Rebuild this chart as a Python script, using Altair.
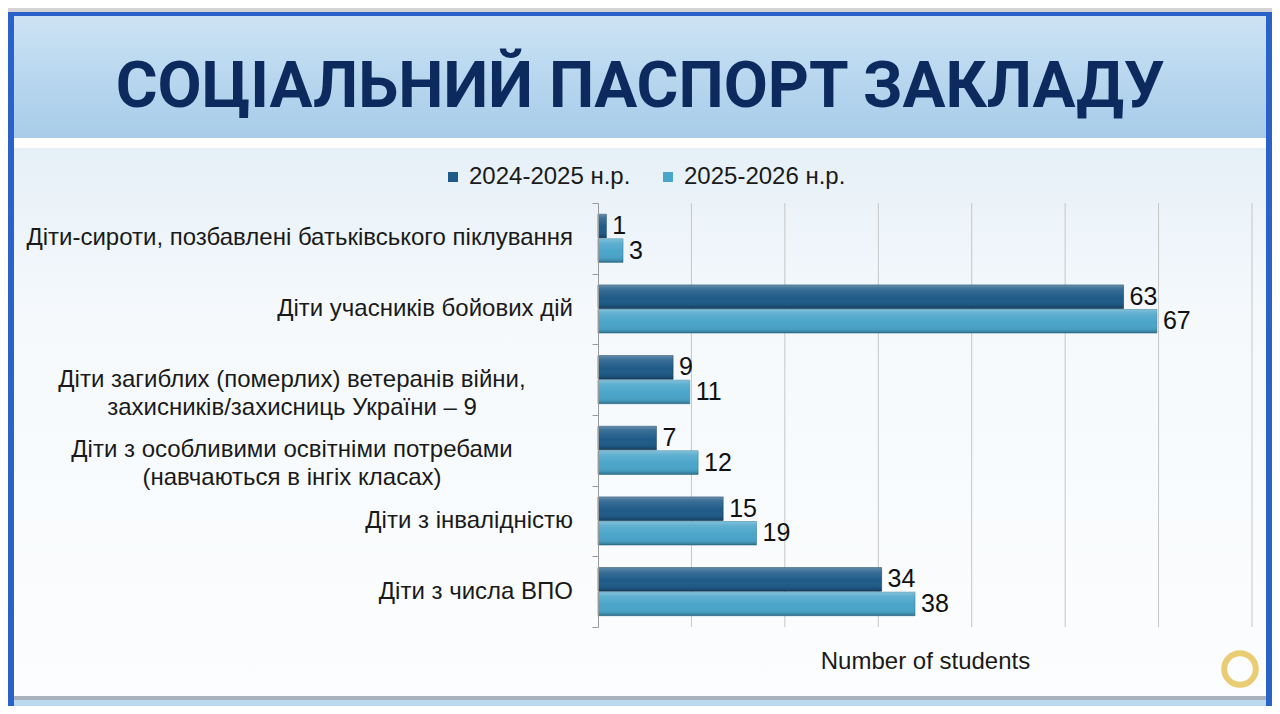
import altair as alt
import pandas as pd

# ---- data ----
categories = [
    "Діти-сироти, позбавлені батьківського піклування",
    "Діти учасників бойових дій",
    "Діти загиблих (померлих) ветеранів війни,\nзахисників/захисниць України – 9",
    "Діти з особливими освітніми потребами\n(навчаються в інгіх класах)",
    "Діти з інвалідністю",
    "Діти з числа ВПО",
]
series = ["2024-2025 н.р.", "2025-2026 н.р."]
values_2024 = [1, 63, 9, 7, 15, 34]
values_2025 = [3, 67, 11, 12, 19, 38]

title_text = "СОЦІАЛЬНИЙ ПАСПОРТ ЗАКЛАДУ"
x_title = "Number of students"

rows = []
for c, a, b in zip(categories, values_2024, values_2025):
    rows.append({"category": c, "series": series[0], "value": a})
    rows.append({"category": c, "series": series[1], "value": b})
df = pd.DataFrame(rows)

cat_df = pd.DataFrame({"category": categories})
cat_df["multi"] = cat_df["category"].str.contains("\n")

XMAX = 78.4
ticks = [round(i * XMAX / 7, 4) for i in range(8)]
grid_df = pd.DataFrame({"value": ticks[1:]})

DARK = "#1f5b88"
LIGHT = "#4aa5ca"
FONT = "Liberation Sans"
TXT = "#1a1a1a"

one = pd.DataFrame({"a": [0]})


def rect(x1, x2, y1, y2, fill):
    return alt.Chart(one).mark_rect(color=fill).encode(
        x=alt.value(x1), x2=alt.value(x2), y=alt.value(y1), y2=alt.value(y2)
    )


def vgrad(stops):
    return alt.Gradient(
        gradient="linear", x1=0, x2=0, y1=0, y2=1,
        stops=[alt.GradientStop(color=c, offset=o) for o, c in stops],
    )


# ---- decorative background (pixel offsets relative to plot origin) ----
frame = rect(-590, 674, -191, 503, "#2a62c9")
title_band = alt.Chart(one).mark_rect(
    color=vgrad([(0, "#cde3f4"), (0.5, "#b8d7ef"), (1, "#a8cce8")])
).encode(x=alt.value(-584), x2=alt.value(668), y=alt.value(-187), y2=alt.value(-65))
white_strip = rect(-584, 668, -65, -55, "#ffffff")
body = alt.Chart(one).mark_rect(
    color=vgrad([(0, "#e6f0f8"), (0.3, "#f5f9fc"), (1, "#fcfdfe")])
).encode(x=alt.value(-584), x2=alt.value(668), y=alt.value(-55), y2=alt.value(493))
grey_line = rect(-584, 668, 493, 497, "#a9b3bd")
bottom_band = rect(-584, 668, 497, 503, "#bcd9f0")

title = alt.Chart(one).mark_text(
    text=title_text, font="Roboto", fontWeight="bold", fontSize=64,
    color="#0c2a5e", align="center", baseline="alphabetic",
).encode(x=alt.value(42), y=alt.value(-96))

logo = alt.Chart(one).mark_point(
    shape="circle", size=1000, filled=False, stroke="#e2b93b", strokeWidth=6
).encode(x=alt.value(642), y=alt.value(466))

# ---- chart ----
y_enc = alt.Y(
    "category:N", sort=categories,
    scale=alt.Scale(paddingInner=0, paddingOuter=0),
    axis=alt.Axis(
        labels=False, title=None, domain=True, domainColor="#9a9a9a",
        ticks=True, tickColor="#9a9a9a", tickSize=6, tickBand="extent",
        grid=False, zindex=1,
    ),
)
yoff = alt.YOffset("series:N", sort=series,
                   scale=alt.Scale(paddingInner=0.04, paddingOuter=0.46))
x_enc = alt.X(
    "value:Q",
    scale=alt.Scale(domain=[0, XMAX], nice=False, zero=True),
    axis=alt.Axis(
        values=ticks, labels=False, ticks=False, domain=False, grid=False,
        title=x_title, titleFont=FONT, titleFontSize=24,
        titleFontWeight="normal", titleColor=TXT, titlePadding=22, zindex=1,
    ),
)

gridlines = alt.Chart(grid_df).mark_rule(color="#c6c6c6", strokeWidth=1).encode(
    x=alt.X("value:Q")
)

bars = alt.Chart(df).mark_bar(strokeWidth=1, strokeOpacity=0.6).encode(
    x=x_enc, y=y_enc, yOffset=yoff,
    color=alt.Color(
        "series:N", sort=series,
        scale=alt.Scale(domain=series, range=[DARK, LIGHT]),
        legend=alt.Legend(
            orient="none", legendX=-157, legendY=-38, direction="horizontal",
            title=None, symbolType="square", symbolSize=100, symbolStrokeWidth=0,
            labelFont=FONT, labelFontSize=24, labelColor=TXT, columnPadding=25,
            labelOffset=4, labelLimit=400,
        ),
    ),
    stroke=alt.Color("series:N", sort=series,
                     scale=alt.Scale(domain=series, range=["#143f61", "#337f9f"]),
                     legend=None),
)

shine = alt.Chart(df).mark_bar(
    color=vgrad([
        (0, "rgba(255,255,255,0.30)"), (0.18, "rgba(255,255,255,0.12)"),
        (0.55, "rgba(255,255,255,0)"), (0.85, "rgba(0,0,0,0.06)"),
        (1, "rgba(0,0,0,0.30)"),
    ])
).encode(x="value:Q", y=alt.Y("category:N", sort=categories), yOffset=yoff)

vals = alt.Chart(df).mark_text(
    align="left", baseline="middle", dx=6, font=FONT, fontSize=25, color="#111111"
).encode(x="value:Q", y=alt.Y("category:N", sort=categories), yOffset=yoff,
         text="value:Q")

cat_single = alt.Chart(cat_df).transform_filter("!datum.multi").mark_text(
    align="right", baseline="middle", font=FONT, fontSize=24, color=TXT
).encode(x=alt.value(-25), y=alt.Y("category:N", sort=categories), text="category:N")

cat_multi = alt.Chart(cat_df).transform_filter("datum.multi").mark_text(
    align="center", baseline="middle", font=FONT, fontSize=24, color=TXT,
    lineBreak="\n", lineHeight=28,
).encode(x=alt.value(-306), y=alt.Y("category:N", sort=categories), text="category:N")

chart = alt.layer(
    frame, title_band, white_strip, body, grey_line, bottom_band, title, logo,
    gridlines, bars, shine, vals, cat_single, cat_multi,
).resolve_scale(color="independent", stroke="independent").properties(
    width=654, height=424,
    padding={"left": 590, "top": 195, "right": 20, "bottom": 79},
    autosize=alt.AutoSizeParams(type="none"),
    background="#d3d3d3",
).configure_view(stroke=None)

chart.save("out.html", embed_options={"renderer": "svg", "actions": False})
